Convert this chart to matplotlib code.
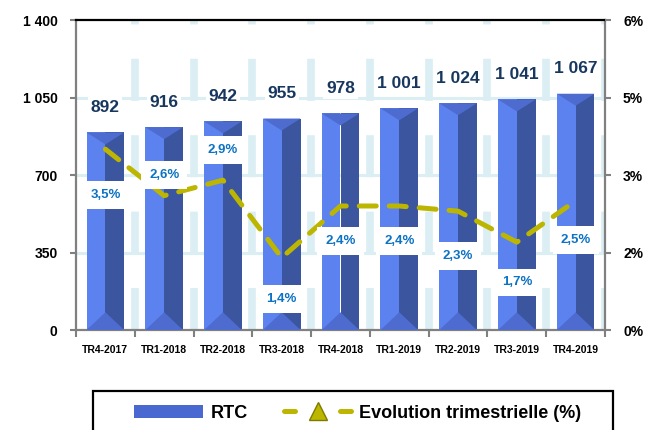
import numpy as np
import matplotlib
matplotlib.use("Agg")
import matplotlib.pyplot as plt
from matplotlib.patches import Polygon, Patch, Rectangle
from matplotlib.lines import Line2D

plt.rcParams['font.family'] = ['Liberation Sans', 'DejaVu Sans']
plt.rcParams['font.weight'] = 'bold'

# data
quarters = ['TR4-2017', 'TR1-2018', 'TR2-2018', 'TR3-2018', 'TR4-2018',
            'TR1-2019', 'TR2-2019', 'TR3-2019', 'TR4-2019']
rtc = [892, 916, 942, 955, 978, 1001, 1024, 1041, 1067]
rtc_labels = ['892', '916', '942', '955', '978', '1 001', '1 024', '1 041', '1 067']
evol = [3.5, 2.6, 2.9, 1.4, 2.4, 2.4, 2.3, 1.7, 2.5]
evol_labels = ['3,5%', '2,6%', '2,9%', '1,4%', '2,4%', '2,4%', '2,3%', '1,7%', '2,5%']
left_ticks = [0, 350, 700, 1050, 1400]
left_ticklabels = ['0', '350', '700', '1 050', '1 400']
right_ticks = [0, 1.5, 3, 4.5, 6]
right_ticklabels = ['0%', '2%', '3%', '5%', '6%']

# label offsets in points (negative = below the point)
evol_offsets = [-33, 15, 22, -30, -25, -25, -32, -29, -28]

# colours
c_light = '#5B82EE'
c_dark = '#3B559F'
c_mid = '#4E6CD0'
c_line = '#BDB600'
c_grid = '#DAEEF3'
c_num = '#17375E'
c_pct = '#0B72C4'

fig = plt.figure(figsize=(6.6, 4.3), dpi=100)
ax = fig.add_axes([76/660, 100/430, 529/660, 310/430])
x = np.arange(len(quarters))
w = 0.64

# grid
for b in x + 0.5:
    ax.axvline(b, color=c_grid, lw=5.5, dashes=(5.5, 4.5), zorder=0)
for t in left_ticks[1:-1]:
    ax.axhline(t, color=c_grid, lw=2.2, zorder=0)

# bevelled bars
top_d, bot_d = 54, 80
ax.bar(x - w/4, rtc, width=w/2, color=c_light, zorder=2)
ax.bar(x + w/4, rtc, width=w/2, color=c_dark, zorder=2)
for xi, v in zip(x, rtc):
    ax.add_patch(Polygon([(xi - w/2, v), (xi + w/2, v), (xi, v - top_d)],
                         closed=True, color=c_mid, lw=0, zorder=3))
    ax.add_patch(Polygon([(xi - w/2, 0), (xi + w/2, 0), (xi, bot_d)],
                         closed=True, color=c_mid, lw=0, zorder=3))

for xi, v, s in zip(x, rtc, rtc_labels):
    ax.annotate(s, (xi, v), xytext=(0, 18), textcoords='offset points',
                ha='center', va='center', fontsize=12.5, color=c_num,
                fontweight='bold', zorder=6,
                bbox=dict(boxstyle='square,pad=0.15', fc='white', ec='none'))

ax.set_xlim(-0.5, len(quarters) - 0.5)
ax.set_ylim(0, 1400)
ax.set_yticks(left_ticks)
ax.set_yticklabels(left_ticklabels)
ax.set_xticks(list(x - 0.5) + [len(quarters) - 0.5])
ax.set_xticklabels([])
ax.set_xticks(x, minor=True)
ax.set_xticklabels(quarters, minor=True)
ax.tick_params(axis='x', which='major', length=5, color='#808080', width=1.5)
ax.tick_params(axis='x', which='minor', length=0, pad=11, labelsize=7.5)
ax.tick_params(axis='y', length=4.3, color='#808080', width=1.5, pad=9,
               labelsize=10)
for lab in ax.get_yticklabels() + ax.get_xticklabels(minor=True):
    lab.set_fontweight('bold')
ax.spines['top'].set_color('black')
ax.spines['top'].set_linewidth(1.6)
for sp in ['left', 'bottom', 'right']:
    ax.spines[sp].set_color('#808080')
    ax.spines[sp].set_linewidth(1.6)

# line on secondary axis
ax2 = ax.twinx()
ax2.set_ylim(0, 6)
ax2.plot(x, evol, color=c_line, lw=3.6, dashes=(3.4, 2.6),
         dash_capstyle='round', solid_capstyle='round', zorder=4)
for xi, v, s, off in zip(x, evol, evol_labels, evol_offsets):
    ax2.annotate(s, (xi, v), xytext=(0, off), textcoords='offset points',
                 ha='center', va='center', fontsize=9.5, color=c_pct,
                 fontweight='bold', zorder=6,
                 bbox=dict(boxstyle='square,pad=0.6', fc='white', ec='none'))
ax2.set_yticks(right_ticks)
ax2.set_yticklabels(right_ticklabels)
ax2.tick_params(axis='y', length=4, color='#808080', width=1.5, pad=9,
                labelsize=10)
for lab in ax2.get_yticklabels():
    lab.set_fontweight('bold')
for sp in ax2.spines.values():
    sp.set_visible(False)
ax.set_zorder(1)
ax2.set_zorder(2)
ax2.patch.set_visible(False)

# legend with its own frame (cut by the figure edge)
fig.patches.append(Rectangle((93/660, -20/430), 520/660, 59/430,
                             transform=fig.transFigure, fill=False,
                             ec='black', lw=1.6))
handles = [Patch(fc='#4A69D0', ec='none', label='RTC'),
           Line2D([], [], color=c_line, lw=3.6, dashes=(2.2, 9.0),
                  dash_capstyle='round', marker='^', markersize=13,
                  markerfacecolor=c_line, markeredgecolor='#7F7A00',
                  label='Evolution trimestrielle (%)')]
fig.legend(handles=handles, loc='center', bbox_to_anchor=(358/660, 17/430),
           ncol=2, frameon=False, handlelength=3.8, handletextpad=0.4,
           columnspacing=2.0, prop={'size': 13, 'weight': 'bold'})

fig.savefig('out.png', dpi=100)
